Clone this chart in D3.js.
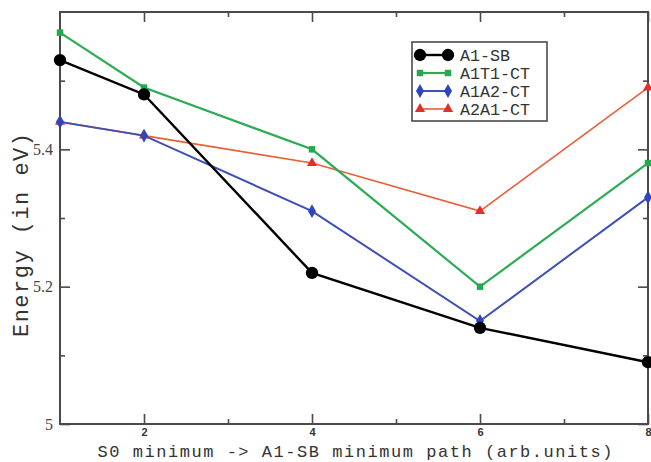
<!DOCTYPE html>
<html>
<head>
<meta charset="utf-8">
<script src="https://cdn.jsdelivr.net/npm/d3@7"></script>
<style>
  body { margin: 0; background: #fff; }
  svg { display: block; }
</style>
</head>
<body>
<div class="chart"></div>
<script>
// path points (arb. units) and energies in eV
var steps = [1, 2, 4, 6, 8];
var a1sb = [5.53, 5.48, 5.22, 5.14, 5.09];
var a1t1ct = [5.57, 5.49, 5.40, 5.20, 5.38];
var a1a2ct = [5.44, 5.42, 5.31, 5.15, 5.33];
var a2a1ct = [5.44, 5.42, 5.38, 5.31, 5.49];
var seriesNames = ["A1-SB", "A1T1-CT", "A1A2-CT", "A2A1-CT"];
var xTickLabels = [2, 4, 6, 8];
var yTickLabels = [5, 5.2, 5.4];

var svgWidth = 651;
var svgHeight = 462;
var margin = { top: 12, right: 3, bottom: 38, left: 60 };
var width = svgWidth - margin.left - margin.right;
var height = svgHeight - margin.top - margin.bottom;

var monoFont = "'Liberation Mono', 'Courier New', monospace";

var svg = d3.select(".chart")
  .append("svg")
  .attr("width", svgWidth)
  .attr("height", svgHeight);

var chartGroup = svg.append("g")
  .attr("transform", `translate(${margin.left}, ${margin.top})`);

var x = d3.scaleLinear().domain([1, 8]).range([0, width]);
var y = d3.scaleLinear().domain([5, 5.6]).range([height, 0]);

var frameColor = "#4a4a4a";

// frame
chartGroup.append("rect")
  .attr("width", width)
  .attr("height", height)
  .attr("fill", "none")
  .attr("stroke", frameColor)
  .attr("stroke-width", 2);

// ticks, pointing inward on all four sides
function styleAxis(g) {
  g.select(".domain").remove();
  g.selectAll(".tick line").attr("stroke", frameColor).attr("stroke-width", 1.6);
}

var xMinor = [3, 5, 7];
var yMinor = [5.1, 5.3, 5.5];

chartGroup.append("g")
  .attr("transform", `translate(0, ${height})`)
  .call(d3.axisBottom(x).tickValues(xTickLabels).tickSize(-10).tickPadding(4).tickFormat(d3.format("d")))
  .call(styleAxis)
  .call(g => g.selectAll("text")
    .attr("font-family", "'Liberation Sans', Arial, sans-serif")
    .attr("font-weight", "bold")
    .attr("font-size", 11)
    .attr("fill", "#333"));

chartGroup.append("g")
  .attr("transform", `translate(0, ${height})`)
  .call(d3.axisBottom(x).tickValues(xMinor).tickSize(-5).tickFormat(""))
  .call(styleAxis);

chartGroup.append("g")
  .call(d3.axisTop(x).tickValues(xTickLabels).tickSize(-10).tickFormat(""))
  .call(styleAxis);

chartGroup.append("g")
  .call(d3.axisTop(x).tickValues(xMinor).tickSize(-5).tickFormat(""))
  .call(styleAxis);

chartGroup.append("g")
  .call(d3.axisLeft(y).tickValues(yTickLabels).tickSize(-10).tickPadding(7).tickFormat(d => d === 5 ? "5" : d3.format(".1f")(d)))
  .call(styleAxis)
  .call(g => g.selectAll("text")
    .attr("font-family", "'Liberation Serif', 'Times New Roman', serif")
    .attr("font-size", 16)
    .attr("fill", "#444"));

chartGroup.append("g")
  .call(d3.axisLeft(y).tickValues(yMinor).tickSize(-5).tickFormat(""))
  .call(styleAxis);

chartGroup.append("g")
  .attr("transform", `translate(${width}, 0)`)
  .call(d3.axisRight(y).tickValues(yTickLabels).tickSize(-10).tickFormat(""))
  .call(styleAxis);

chartGroup.append("g")
  .attr("transform", `translate(${width}, 0)`)
  .call(d3.axisRight(y).tickValues(yMinor).tickSize(-5).tickFormat(""))
  .call(styleAxis);

// series
var series = [
  { name: seriesNames[0], values: a1sb, line: "#000000", fill: "#000000", shape: d3.symbolCircle, size: 120, width: 2.4 },
  { name: seriesNames[1], values: a1t1ct, line: "#2eac55", fill: "#22aa50", shape: d3.symbolSquare, size: 42, width: 2.2 },
  { name: seriesNames[2], values: a1a2ct, line: "#3f4fb4", fill: "#2f45b8", shape: d3.symbolDiamond, size: 55, width: 2 },
  { name: seriesNames[3], values: a2a1ct, line: "#e8603a", fill: "#e0302a", shape: d3.symbolTriangle, size: 45, width: 1.6 }
];

var lineGen = d3.line()
  .x((d, i) => x(steps[i]))
  .y(d => y(d));

series.slice().reverse().forEach(function(s) {
  chartGroup.append("path")
    .datum(s.values)
    .attr("d", lineGen)
    .attr("fill", "none")
    .attr("stroke", s.line)
    .attr("stroke-width", s.width);

  chartGroup.selectAll(null)
    .data(s.values)
    .enter()
    .append("path")
    .attr("transform", (d, i) => `translate(${x(steps[i])}, ${y(d)})`)
    .attr("d", d3.symbol().type(s.shape).size(s.size))
    .attr("fill", s.fill);
});

// legend
var legend = svg.append("g").attr("transform", "translate(412, 42)");
legend.append("rect")
  .attr("width", 135)
  .attr("height", 79)
  .attr("fill", "#fff")
  .attr("stroke", frameColor)
  .attr("stroke-width", 1.6);

series.forEach(function(s, i) {
  var row = legend.append("g").attr("transform", `translate(0, ${13 + i * 18})`);
  row.append("line")
    .attr("x1", 8).attr("x2", 36)
    .attr("stroke", s.line)
    .attr("stroke-width", s.width);
  [8, 36].forEach(function(px) {
    row.append("path")
      .attr("transform", `translate(${px}, 0)`)
      .attr("d", d3.symbol().type(s.shape).size(s.size))
      .attr("fill", s.fill);
  });
  row.append("text")
    .attr("x", 48)
    .attr("dy", "0.35em")
    .attr("font-family", monoFont)
    .attr("font-size", 16.7)
    .attr("fill", "#333")
    .text(s.name);
});

// axis titles
svg.append("text")
  .attr("x", 355)
  .attr("y", 457)
  .attr("text-anchor", "middle")
  .attr("font-family", monoFont)
  .attr("font-size", 17)
  .attr("textLength", 515)
  .attr("lengthAdjust", "spacing")
  .attr("fill", "#333")
  .text("S0 minimum -> A1-SB minimum path (arb.units)");

svg.append("text")
  .attr("transform", "translate(28, 235) rotate(-90)")
  .attr("text-anchor", "middle")
  .attr("font-family", monoFont)
  .attr("font-size", 22)
  .attr("textLength", 204)
  .attr("lengthAdjust", "spacing")
  .attr("fill", "#333")
  .text("Energy (in eV)");
</script>
</body>
</html>
